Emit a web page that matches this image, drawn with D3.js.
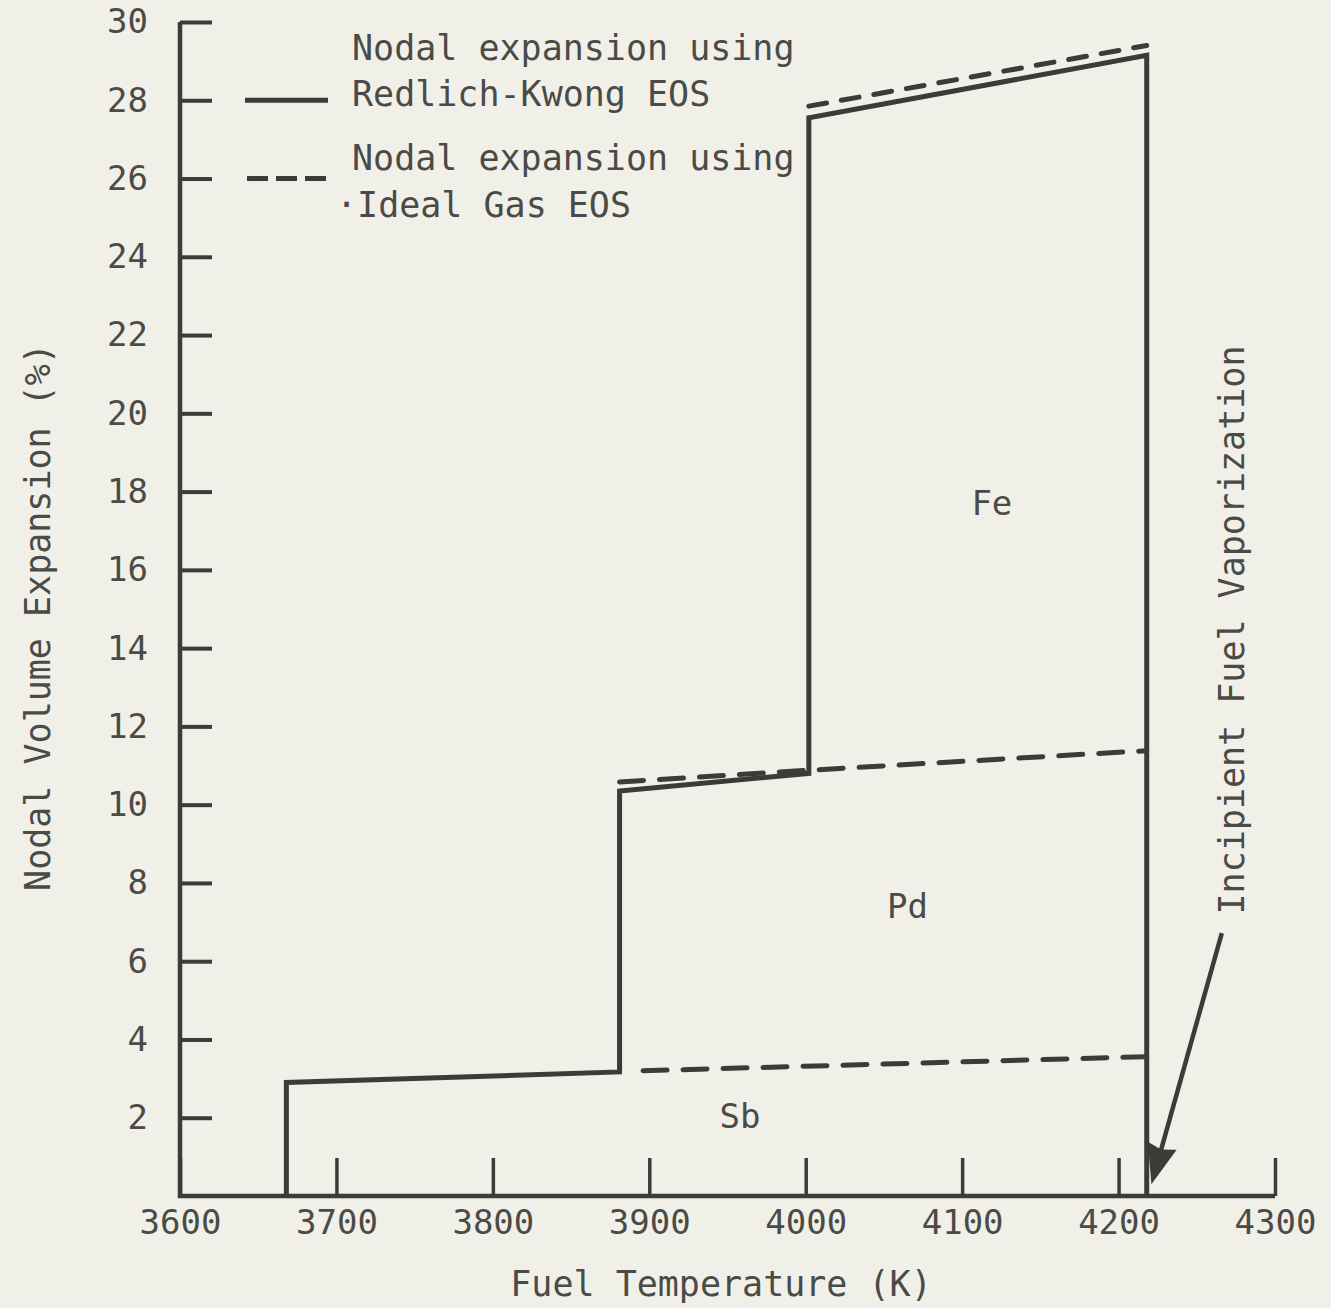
<!DOCTYPE html>
<html>
<head>
<meta charset="utf-8">
<script src="https://cdn.jsdelivr.net/npm/d3@7"></script>
<style>
  html, body { margin: 0; padding: 0; background: #f1f0e8; }
  svg { display: block; }
  text { font-family: "DejaVu Sans Mono", "Liberation Mono", monospace; fill: #4a4a46; }
</style>
</head>
<body>
<svg id="chart" width="1331" height="1308"></svg>
<script>
// Fuel temperature (K) ticks and nodal volume expansion (%) ticks
const xTickValues = [3600, 3700, 3800, 3900, 4000, 4100, 4200, 4300];
const yTickValues = [2, 4, 6, 8, 10, 12, 14, 16, 18, 20, 22, 24, 26, 28, 30];

// Redlich-Kwong EOS: step outline through the Sb, Pd and Fe regions
const rkTemp   = [3668, 3668, 3881, 3881, 4002, 4002, 4218, 4218];
const rkExpand = [0,    2.9,  3.17, 10.35, 10.8, 27.55, 29.15, 0];

// Ideal gas EOS segments (dashed)
const igSbTemp   = [3896, 4218];
const igSbExpand = [3.2, 3.56];
const igPdTemp   = [3881, 4002, 4218];
const igPdExpand = [10.58, 10.88, 11.38];
const igFeTemp   = [4002, 4218];
const igFeExpand = [27.85, 29.4];

// Region labels
const regionNames = ["Fe", "Pd", "Sb"];
const regionTemp  = [4119, 4065, 3958];
const regionLevel = [17.7, 7.4, 2.05];

// Incipient fuel vaporization pointer (tail, tip)
const arrowTemp   = [4266, 4221];
const arrowExpand = [6.72, 0.3];

const svg = d3.select("#chart");
const ink = "#3b3b38";

const x = d3.scaleLinear().domain([3600, 4300]).range([180, 1275]);
const y = d3.scaleLinear().domain([0, 30]).range([1196, 22]);

// Axes with inward ticks
const yAxis = d3.axisLeft(y).tickValues(yTickValues).tickSize(-32).tickPadding(32)
  .tickFormat(d3.format("d"));
const gy = svg.append("g").attr("transform", "translate(180,0)").call(yAxis);
gy.select(".domain").remove();
gy.selectAll(".tick line").attr("stroke", ink).attr("stroke-width", 4);
gy.selectAll(".tick text").attr("font-size", 34).attr("font-family", "DejaVu Sans Mono").attr("fill", "#4a4a46");

const xAxis = d3.axisBottom(x).tickValues(xTickValues).tickSize(-38).tickPadding(14)
  .tickFormat(d3.format("d"));
const gx = svg.append("g").attr("transform", "translate(0,1196)").call(xAxis);
gx.select(".domain").remove();
gx.selectAll(".tick line").attr("stroke", ink).attr("stroke-width", 3.5);
gx.selectAll(".tick text").attr("font-size", 34).attr("font-family", "DejaVu Sans Mono").attr("fill", "#4a4a46");

// Axis frame lines
svg.append("path")
  .attr("d", d3.line()([[x(3600), y(30)], [x(3600), y(0)], [x(4300), y(0)]]))
  .attr("fill", "none").attr("stroke", ink).attr("stroke-width", 4.5);

const line = d3.line().x(d => x(d[0])).y(d => y(d[1]));
const zip = (a, b) => a.map((v, i) => [v, b[i]]);

// Redlich-Kwong outline
svg.append("path").datum(zip(rkTemp, rkExpand)).attr("d", line)
  .attr("fill", "none").attr("stroke", ink).attr("stroke-width", 5)
  .attr("stroke-linejoin", "miter");

// Ideal gas dashed segments
[[igSbTemp, igSbExpand], [igPdTemp, igPdExpand], [igFeTemp, igFeExpand]].forEach(([t, v], i) => {
  svg.append("path").datum(zip(t, v)).attr("d", line)
    .attr("fill", "none").attr("stroke", ink).attr("stroke-width", 5)
    .attr("stroke-linecap", "round")
    .attr("stroke-dasharray", i === 2 ? "18,15" : "24,16");
});

// Region labels
regionNames.forEach((n, i) => {
  svg.append("text").attr("x", x(regionTemp[i])).attr("y", y(regionLevel[i]))
    .attr("text-anchor", "middle").attr("dy", "0.35em").attr("font-size", 34).text(n);
});

// Pointer arrow: shaft plus a filled head built from the tail→tip direction
const tail = [x(arrowTemp[0]), y(arrowExpand[0])];
const tip  = [x(arrowTemp[1]), y(arrowExpand[1])];
const dx = tip[0] - tail[0], dy = tip[1] - tail[1];
const len = Math.hypot(dx, dy), ux = dx / len, uy = dy / len;
const headLen = 40, headHalf = 15;
const base = [tip[0] - ux * headLen, tip[1] - uy * headLen];
svg.append("line").attr("x1", tail[0]).attr("y1", tail[1])
  .attr("x2", base[0] + ux * 6).attr("y2", base[1] + uy * 6)
  .attr("stroke", ink).attr("stroke-width", 4.5);
svg.append("path")
  .attr("d", d3.line()([
    tip,
    [base[0] - uy * headHalf, base[1] + ux * headHalf],
    [base[0] + ux * 4, base[1] + uy * 4],
    [base[0] + uy * headHalf, base[1] - ux * headHalf]
  ]) + "Z")
  .attr("fill", ink);

svg.append("text")
  .attr("transform", `translate(1244,630) rotate(-90)`)
  .attr("text-anchor", "middle").attr("font-size", 35).text("Incipient Fuel Vaporization");

// Legend
const legend = svg.append("g");
legend.append("line").attr("x1", 245).attr("x2", 328).attr("y1", y(28)).attr("y2", y(28))
  .attr("stroke", ink).attr("stroke-width", 5);
legend.append("line").attr("x1", 247).attr("x2", 328).attr("y1", y(26)).attr("y2", y(26))
  .attr("stroke", ink).attr("stroke-width", 5).attr("stroke-dasharray", "21,8");
const legendLines = [
  ["Nodal expansion using", 60],
  ["Redlich-Kwong EOS", 106],
  ["Nodal expansion using", 170],
  ["·Ideal Gas EOS", 217]
];
legendLines.forEach(([t, yy]) => {
  legend.append("text").attr("x", t.startsWith("·") ? 336 : 352).attr("y", yy)
    .attr("font-size", 35).text(t);
});

// Axis titles
svg.append("text").attr("x", 721).attr("y", 1296).attr("text-anchor", "middle")
  .attr("font-size", 35).text("Fuel Temperature (K)");
svg.append("text").attr("transform", "translate(50,617) rotate(-90)")
  .attr("text-anchor", "middle").attr("font-size", 35).text("Nodal Volume Expansion (%)");
</script>
</body>
</html>
